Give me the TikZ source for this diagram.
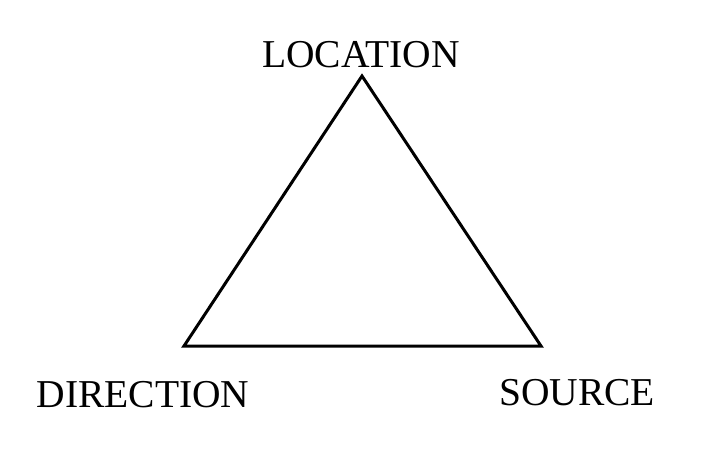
\documentclass[tikz,border=0pt]{standalone}
\usepackage{fontspec}
\setmainfont{Liberation Serif}
\usetikzlibrary{positioning}
\tikzset{
    corner/.style={inner sep=0pt, anchor=base, font=\fontsize{39.5}{47}\selectfont},
    side/.style={line width=3pt, line join=miter},
}
\begin{document}
\begin{tikzpicture}[x=1pt, y=-1pt]
\useasboundingbox (0,0) rectangle (702,465);

% === VERTICES ===
\coordinate (top) at (362,76);
\coordinate (left) at (184,346);
\coordinate (right) at (541,346);

% === LABELS ===
\node[corner] (loc) at (361,68) {LOCATION};
\node[corner] (dir) at (143,407) {DIRECTION};
\node[corner] (src) at (577,405) {SOURCE};

% === TRIANGLE ===
\draw[side] (top) -- (left) -- (right) -- cycle;

\end{tikzpicture}
\end{document}
